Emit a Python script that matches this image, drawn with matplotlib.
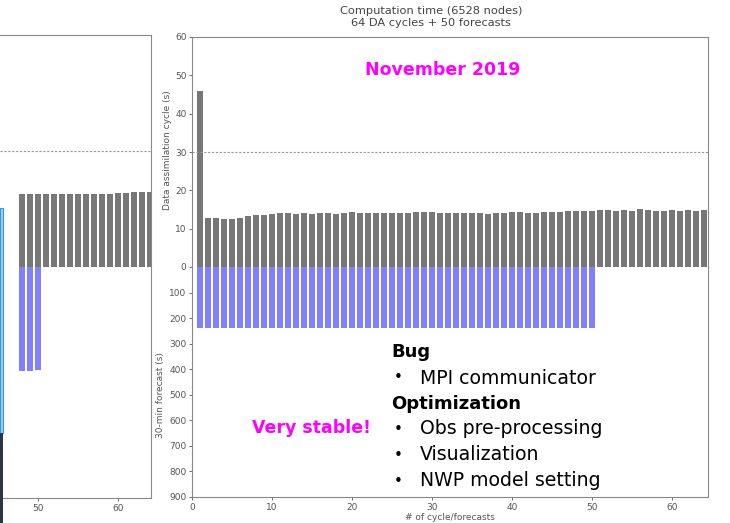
import matplotlib
matplotlib.use('Agg')
import matplotlib.pyplot as plt
from matplotlib.patches import Rectangle
import numpy as np

# main panel (November 2019): 64 DA cycles + 50 forecasts
cycles = np.arange(1, 65)
da_time = [46.0, 12.9, 12.8, 12.5, 12.6, 12.8, 13.2, 13.6, 13.6, 13.8,
           14.0, 14.0, 13.9, 14.0, 13.9, 14.0, 14.0, 13.8, 14.2, 14.3,
           14.2, 14.2, 14.1, 14.2, 14.2, 14.2, 14.2, 14.3, 14.3, 14.3,
           14.2, 14.2, 14.1, 14.2, 14.1, 14.0, 13.8, 14.0, 14.1, 14.3,
           14.3, 14.2, 14.2, 14.3, 14.4, 14.4, 14.5, 14.6, 14.6, 14.7,
           14.8, 14.8, 14.7, 14.8, 14.7, 15.1, 14.8, 14.7, 14.7, 14.8,
           14.6, 15.0, 14.6, 15.0]
fcst_cycles = np.arange(1, 51)
fcst_time = [237] * 50

# partially visible panel on the left
left_cycles = np.arange(48, 65)
left_da = [18.8, 18.9, 18.8, 18.9, 18.9, 18.8, 19.0, 18.9, 18.9, 18.8,
           19.0, 18.9, 19.1, 19.2, 19.3, 19.3, 19.3]
left_fcst_cycles = [48, 49, 50]
left_fcst = [405, 405, 400]

gray = '#777777'
blue = '#7f7fff'
tick_col = '#555555'

fig = plt.figure(figsize=(7.3, 5.23), dpi=100)
W, H = 730.0, 523.0

def fx(px):
    return px / W

def fy(py):
    return 1 - py / H

def style(ax):
    ax.tick_params(labelsize=6.5, colors=tick_col, length=2.5, width=0.6, pad=1.5)
    for s in ax.spines.values():
        s.set_color('#888888')
        s.set_linewidth(0.8)

# ---- left (cut off) panel
lu = fig.add_axes([0, fy(267), fx(151), fy(35) - fy(267)])
ll = fig.add_axes([0, fy(498), fx(151), fy(267) - fy(498)])
for ax in (lu, ll):
    ax.set_xlim(45.25, 64.1)
    style(ax)
    ax.spines['left'].set_visible(False)
    ax.set_yticks([])
lu.bar(left_cycles, left_da, width=0.8, color=gray)
lu.axhline(30, color='#999999', lw=0.8, ls=(0, (2, 1.5)))
lu.set_ylim(0, 60)
lu.set_xticks([])
lu.spines['bottom'].set_visible(False)
ll.bar(left_fcst_cycles, left_fcst, width=0.8, color=blue)
ll.set_ylim(900, 0)
ll.spines['top'].set_visible(False)
ll.set_xticks([50, 60])

# strip at the far left edge
fig.patches.append(Rectangle((0, fy(433)), fx(3), fy(208) - fy(433),
                             transform=fig.transFigure, facecolor='#8fdcf5',
                             edgecolor='#4a8de0', lw=0.8))
fig.patches.append(Rectangle((0, 0), fx(3), fy(433),
                             transform=fig.transFigure, facecolor='#2a3646',
                             edgecolor='none'))

# ---- main panel
au = fig.add_axes([fx(192), fy(267), fx(708) - fx(192), fy(37) - fy(267)])
al = fig.add_axes([fx(192), fy(497), fx(708) - fx(192), fy(267) - fy(497)])
for ax in (au, al):
    ax.set_xlim(0, 64.5)
    style(ax)

au.bar(cycles, da_time, width=0.8, color=gray)
au.axhline(30, color='#999999', lw=0.8, ls=(0, (2, 1.5)))
au.set_ylim(0, 60)
au.set_yticks(np.arange(0, 61, 10))
au.set_xticks([])
au.spines['bottom'].set_visible(False)

al.bar(fcst_cycles, fcst_time, width=0.8, color=blue)
al.set_ylim(900, 0)
al.set_yticks(np.arange(100, 901, 100))
al.set_xticks(np.arange(0, 61, 10))
al.spines['top'].set_visible(False)

fig.text(fx(431), fy(17), 'Computation time (6528 nodes)\n64 DA cycles + 50 forecasts',
         ha='center', va='center', fontsize=8.2, color='#444444', linespacing=1.2)
fig.text(fx(167), fy(150), 'Data assimilation cycle (s)', rotation=90,
         ha='center', va='center', fontsize=6.5, color=tick_col)
fig.text(fx(161), fy(395), '30-min forecast (s)', rotation=90,
         ha='center', va='center', fontsize=6.5, color=tick_col)
fig.text(fx(450), fy(517), '# of cycle/forecasts', ha='center', va='center',
         fontsize=6.5, color=tick_col)

# slide annotations
fig.text(fx(443), fy(70), 'November 2019', ha='center', va='center',
         fontsize=12.5, fontweight='bold', color='#ff00ff')
fig.text(fx(311), fy(428), 'Very stable!', ha='center', va='center',
         fontsize=12.5, fontweight='bold', color='#ff00ff')

lines = [('Bug', True, 352), ('MPI communicator', False, 378),
         ('Optimization', True, 404), ('Obs pre-processing', False, 429),
         ('Visualization', False, 455), ('NWP model setting', False, 481)]
for txt, head, y in lines:
    if head:
        fig.text(fx(391), fy(y), txt, ha='left', va='center', fontsize=13,
                 fontweight='bold', color='black')
    else:
        fig.text(fx(394), fy(y), '\u2022', ha='left', va='center', fontsize=11,
                 color='black')
        fig.text(fx(420), fy(y), txt, ha='left', va='center', fontsize=13.6,
                 color='black')

fig.savefig('out.png', dpi=100)
